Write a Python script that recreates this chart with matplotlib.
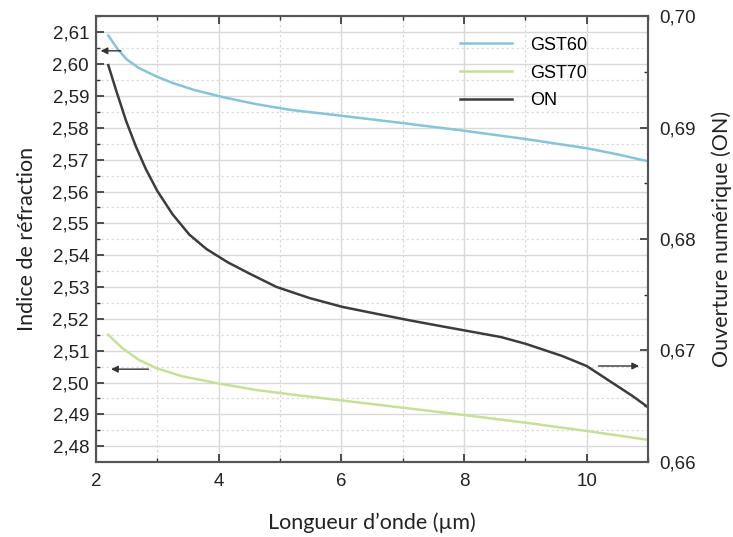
import numpy as np
import matplotlib
matplotlib.use("Agg")
import matplotlib.pyplot as plt
from matplotlib.ticker import MultipleLocator, FuncFormatter

# values
wl_gst60 = [2.2, 2.35, 2.5, 2.7, 3.0, 3.25, 3.6, 4.1, 4.6, 5.15, 6, 7, 8, 9, 10, 10.5, 11]
n_gst60 = [2.6090, 2.6048, 2.6015, 2.5988, 2.5960, 2.5941, 2.5919, 2.5895, 2.5875,
           2.5857, 2.5838, 2.5815, 2.5791, 2.5765, 2.5736, 2.5717, 2.5695]

wl_gst70 = [2.2, 2.43, 2.7, 3.0, 3.4, 4.0, 4.6, 5.25, 6, 7, 8, 9, 10, 11]
n_gst70 = [2.5150, 2.5108, 2.5071, 2.5044, 2.5020, 2.4997, 2.4977, 2.4961,
           2.4944, 2.4921, 2.4898, 2.4874, 2.4848, 2.4820]

wl_on = [2.2, 2.33, 2.49, 2.65, 2.81, 3.0, 3.25, 3.52, 3.8, 4.15, 4.5, 4.94, 5.48,
         6.02, 6.56, 7.11, 7.6, 8.1, 8.6, 9.0, 9.6, 10.0, 10.25, 10.5, 10.75, 11]
na_on = [0.6956, 0.6933, 0.6906, 0.6883, 0.6863, 0.6843, 0.6822, 0.6804, 0.6791,
         0.6779, 0.6769, 0.6757, 0.6747, 0.6739, 0.6733, 0.6727, 0.6722, 0.6717,
         0.6712, 0.6706, 0.6695, 0.6686, 0.6677, 0.6668, 0.6659, 0.6649]

c60 = "#86c5d8"
c70 = "#c6e09a"
con = "#3c3c3c"

plt.rcParams['font.family'] = ['Liberation Sans', 'DejaVu Sans']

fig = plt.figure(figsize=(7.33, 5.37), dpi=100)
ax = fig.add_axes([0.131, 0.140, 0.753, 0.830])
ax2 = ax.twinx()

ax.plot(wl_gst60, n_gst60, color=c60, lw=1.8, label="GST60")
ax.plot(wl_gst70, n_gst70, color=c70, lw=1.8, label="GST70")
ax2.plot(wl_on, na_on, color=con, lw=1.8, label="ON")

ax.set_xlim(2, 11)
ax.set_ylim(2.4751, 2.6151)
ax2.set_ylim(0.66, 0.70)

comma = FuncFormatter(lambda v, p: f"{v:.2f}".replace(".", ","))
ax.xaxis.set_major_locator(MultipleLocator(2))
ax.xaxis.set_minor_locator(MultipleLocator(1))
ax.yaxis.set_major_locator(MultipleLocator(0.01))
ax.yaxis.set_minor_locator(MultipleLocator(0.005))
ax.yaxis.set_major_formatter(comma)
ax2.yaxis.set_major_locator(MultipleLocator(0.01))
ax2.yaxis.set_minor_locator(MultipleLocator(0.005))
ax2.yaxis.set_major_formatter(comma)

ax.grid(which="major", color="#d9d9d9", lw=1.0)
ax.grid(which="minor", color="#dddddd", lw=0.9, ls=(0, (2, 2)))
ax.xaxis.grid(which="minor", color="#d9d9d9", lw=0.9, ls=(0, (2, 2)))
ax.set_axisbelow(True)

for a in (ax, ax2):
    a.tick_params(which="major", direction="in", length=6, width=1.2, labelsize=13.5,
                  colors="#333333", labelcolor="#222222")
    a.tick_params(which="minor", direction="in", length=3, width=1.0, colors="#333333")
    for s in a.spines.values():
        s.set_color("#555555")
        s.set_linewidth(1.5)
ax.tick_params(axis="x", which="both", top=True)
ax.tick_params(axis="x", pad=8)
ax.tick_params(axis="y", pad=5)
ax2.tick_params(axis="y", pad=8)

ax.set_xlabel("Longueur d’onde (µm)", fontsize=15.5, family=["Lato", "DejaVu Sans"],
              labelpad=16, color="#222222")
ax.set_ylabel("Indice de réfraction", fontsize=15.5, family=["Lato", "DejaVu Sans"],
              labelpad=11, color="#222222")
ax2.set_ylabel("Ouverture numérique (ON)", fontsize=15.5, family=["Lato", "DejaVu Sans"],
               labelpad=11, color="#222222")

# arrows showing which axis each curve belongs to
arr = dict(arrowstyle="-|>", color="#333333", lw=1.0, mutation_scale=10)
ax.annotate("", xy=(2.03, 2.6042), xytext=(2.45, 2.6042), arrowprops=arr)
ax.annotate("", xy=(2.2, 2.5042), xytext=(2.9, 2.5042), arrowprops=arr)
ax2.annotate("", xy=(10.9, 0.6686), xytext=(10.15, 0.6686), arrowprops=arr)

h1, l1 = ax.get_legend_handles_labels()
h2, l2 = ax2.get_legend_handles_labels()
ax2.legend(h1 + h2, l1 + l2, loc="upper left", bbox_to_anchor=(0.63, 0.99),
           frameon=False, fontsize=13, handlelength=2.9, handletextpad=1.0,
           labelspacing=0.6)

fig.savefig("out.png", dpi=100)
